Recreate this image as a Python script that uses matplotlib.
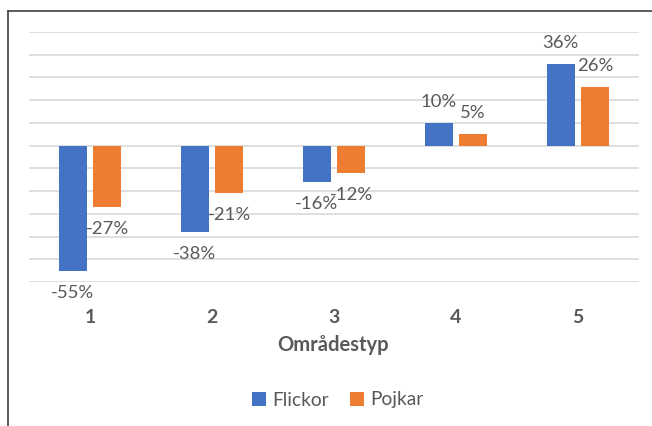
import matplotlib
matplotlib.use("Agg")
import matplotlib.pyplot as plt
from matplotlib.patches import Patch
from matplotlib.lines import Line2D
import numpy as np

plt.rcParams['font.family'] = ['Lato', 'DejaVu Sans']

categories = ["1", "2", "3", "4", "5"]
flickor = [-0.55, -0.38, -0.16, 0.10, 0.36]
pojkar = [-0.27, -0.21, -0.12, 0.05, 0.26]
series_names = ["Flickor", "Pojkar"]
colors = ["#4472C4", "#ED7D31"]
xlabel = "Områdestyp"

W, H = 652, 426
fig = plt.figure(figsize=(W/100, H/100), dpi=100)
ax = fig.add_axes([29/W, 1-282/H, (639-29)/W, (282-32)/H])

x = np.arange(len(categories))
bw = 0.225
off = 0.141
txt = "#595959"
for vals, sign, c in [(flickor, -1, colors[0]), (pojkar, 1, colors[1])]:
    xs = x + sign*off
    ax.bar(xs, vals, width=bw, color=c, zorder=3)
    for xi, v in zip(xs, vals):
        dy = 21 if v >= 0 else -22
        ax.annotate(f"{round(v*100):d}%", (xi, v), xytext=(0, dy*0.72),
                    textcoords="offset points", ha="center", va="center",
                    fontsize=13.3, color=txt, zorder=4)

ax.set_xlim(-0.5, len(categories)-0.5)
ax.set_ylim(-0.6, 0.5)
ax.set_yticks(np.round(np.arange(-0.6, 0.51, 0.1), 2))
ax.yaxis.grid(True, color="#D9D9D9", linewidth=1.2, zorder=0)
ax.tick_params(axis="y", left=False, labelleft=False)
ax.set_xticks(x)
ax.set_xticklabels(categories, fontsize=14, fontweight="bold", color=txt)
ax.tick_params(axis="x", bottom=False, pad=16)
for s in ax.spines.values():
    s.set_visible(False)
ax.set_axisbelow(True)

fig.text(333/W, 1-345/H, xlabel, ha="center", va="center", fontsize=14.5,
         fontweight="bold", color=txt)

handles = [Patch(facecolor=c, edgecolor="none") for c in colors]
leg = fig.legend(handles, series_names, loc="center", bbox_to_anchor=(338/W, 1-400/H),
                 ncol=2, frameon=False, fontsize=13.8, handlelength=0.7, handleheight=0.7,
                 handletextpad=0.35, columnspacing=1.1)
for t in leg.get_texts():
    t.set_color(txt)

# chart border (left and top visible)
fig.add_artist(Line2D([8/W, 8/W], [1-11/H, -0.1], color="#404040", linewidth=1.2,
                      transform=fig.transFigure))
fig.add_artist(Line2D([8/W, 1.1], [1-11/H, 1-11/H], color="#404040", linewidth=1.2,
                      transform=fig.transFigure))

fig.savefig("out.png", dpi=100)
